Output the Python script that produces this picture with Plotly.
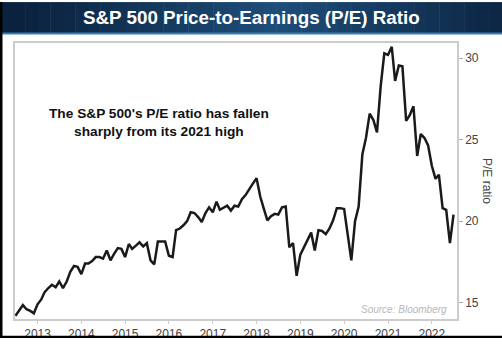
import plotly.graph_objects as go
import pandas as pd

# Monthly S&P 500 P/E ratio, Jul 2012 - Jul 2022
dates = pd.date_range("2012-07-01", periods=121, freq="MS")
pe_ratio = [
    14.2, 14.5, 14.85, 14.6, 14.5, 14.35, 14.9, 15.2, 15.65, 15.9, 16.1, 15.95,
    16.3, 15.9, 16.3, 16.9, 17.25, 17.2, 16.75, 17.4, 17.4, 17.55, 17.8, 17.8,
    17.7, 18.2, 17.6, 18.0, 18.35, 18.3, 17.8, 18.6, 18.3, 18.5, 18.7, 18.45,
    18.65, 17.6, 17.35, 18.75, 18.75, 18.75, 17.88, 17.8, 19.45, 19.55, 19.75, 20.0,
    20.55, 20.5, 20.25, 19.95, 20.5, 20.85, 20.55, 21.2, 20.7, 20.85, 20.95, 20.65,
    20.95, 20.9, 21.35, 21.6, 22.0, 22.3, 22.64, 21.5, 20.8, 20.05, 20.3, 20.45,
    20.4, 20.85, 20.9, 18.4, 18.65, 16.65, 17.95, 18.45, 18.9, 19.3, 18.2, 19.45,
    19.4, 19.2, 19.55, 20.05, 20.8, 20.8, 20.75, 19.0, 17.6, 20.0, 20.9, 24.1,
    25.1, 26.6, 26.2, 25.45, 28.3, 30.3, 30.2, 30.7, 28.6, 29.55, 29.5, 26.15,
    26.5, 27.05, 24.0, 25.35, 25.1, 24.65, 23.4, 22.6, 22.85, 20.8, 20.7, 18.65,
    20.4,
]
year_ticks = [f"{y}-01-01" for y in range(2013, 2023)]
year_labels = [str(y) for y in range(2013, 2023)]
y_ticks = [15, 20, 25, 30]

W, H = 502, 353
L, R, T, B = 15, 457, 43, 333

def px_x(px):
    return (px - L) / (R - L)

def px_y(py):
    return (B - py) / (B - T)

fig = go.Figure()
fig.add_trace(go.Scatter(
    x=dates, y=pe_ratio, mode="lines",
    line=dict(color="#1a1a1a", width=2.5),
    hoverinfo="skip", showlegend=False,
))

shapes = []
# banner gradient stripes
n = 40
for i in range(n):
    t = (i + 0.5) / n
    w = max(0.0, 1 - abs(t - 0.55) / 0.5)
    c0 = (11, 34, 62)
    c1 = (30, 78, 122)
    col = tuple(int(c0[k] + (c1[k] - c0[k]) * w) for k in range(3))
    shapes.append(dict(
        type="rect", xref="paper", yref="paper", layer="above",
        x0=px_x(W * i / n), x1=px_x(W * (i + 1) / n + 0.5),
        y0=px_y(33), y1=px_y(0),
        fillcolor="rgb(%d,%d,%d)" % col, line=dict(width=0),
    ))
shapes.append(dict(type="rect", xref="paper", yref="paper", layer="above",
                   x0=px_x(0), x1=px_x(W), y0=px_y(34), y1=px_y(32),
                   fillcolor="#3b7db3", line=dict(width=0)))
# outer border left and bottom
shapes.append(dict(type="rect", xref="paper", yref="paper", layer="above",
                   x0=px_x(0), x1=px_x(2.5), y0=px_y(H), y1=px_y(0),
                   fillcolor="black", line=dict(width=0)))
shapes.append(dict(type="rect", xref="paper", yref="paper", layer="above",
                   x0=px_x(0), x1=px_x(W), y0=px_y(H), y1=px_y(350.5),
                   fillcolor="black", line=dict(width=0)))

annotations = [
    dict(text="<b>S&P 500 Price-to-Earnings (P/E) Ratio</b>",
         x=px_x(251.5), y=px_y(16.5), xref="paper", yref="paper",
         showarrow=False, font=dict(family="Liberation Sans, Arial", size=18.8, color="white"),
         xanchor="center", yanchor="middle"),
    dict(text="<b>The S&P 500's P/E ratio has fallen<br>sharply from its 2021 high</b>",
         x=px_x(159), y=px_y(126.5), xref="paper", yref="paper",
         showarrow=False, font=dict(family="Liberation Sans, Arial", size=13.7, color="#111"),
         xanchor="center", yanchor="middle", align="center"),
    dict(text="<i>Source: Bloomberg</i>",
         x=px_x(449), y=px_y(323), xref="paper", yref="paper",
         showarrow=False, font=dict(family="Liberation Sans, Arial", size=10, color="#b8b8b8"),
         xanchor="right", yanchor="middle"),
    dict(text="P/E ratio", textangle=90,
         x=px_x(487), y=px_y(188), xref="paper", yref="paper",
         showarrow=False, font=dict(family="Liberation Sans, Arial", size=12, color="#444"),
         xanchor="center", yanchor="middle"),
]

fig.update_layout(
    width=W, height=H,
    margin=dict(l=L, r=W - R, t=T, b=H - B),
    paper_bgcolor="white", plot_bgcolor="white",
    shapes=shapes, annotations=annotations,
    font=dict(family="Liberation Sans, Arial", size=12, color="#444"),
)
fig.update_xaxes(
    range=["2012-06-27", "2022-07-30"],
    tickvals=year_ticks, ticktext=year_labels,
    showgrid=False, zeroline=False,
    showline=True, linecolor="#cccccc", linewidth=1.5, mirror=True,
    ticks="outside", ticklen=3, tickcolor="#cccccc",
    tickfont=dict(size=12, color="#444"),
)
fig.update_yaxes(
    range=[14.0, 30.93], side="right",
    tickvals=y_ticks,
    showgrid=False, zeroline=False,
    showline=True, linecolor="#cccccc", linewidth=1.5, mirror=True,
    ticks="outside", ticklen=4, tickcolor="#aaaaaa",
    tickfont=dict(size=12, color="#444"),
)

fig.write_html("out.html")
